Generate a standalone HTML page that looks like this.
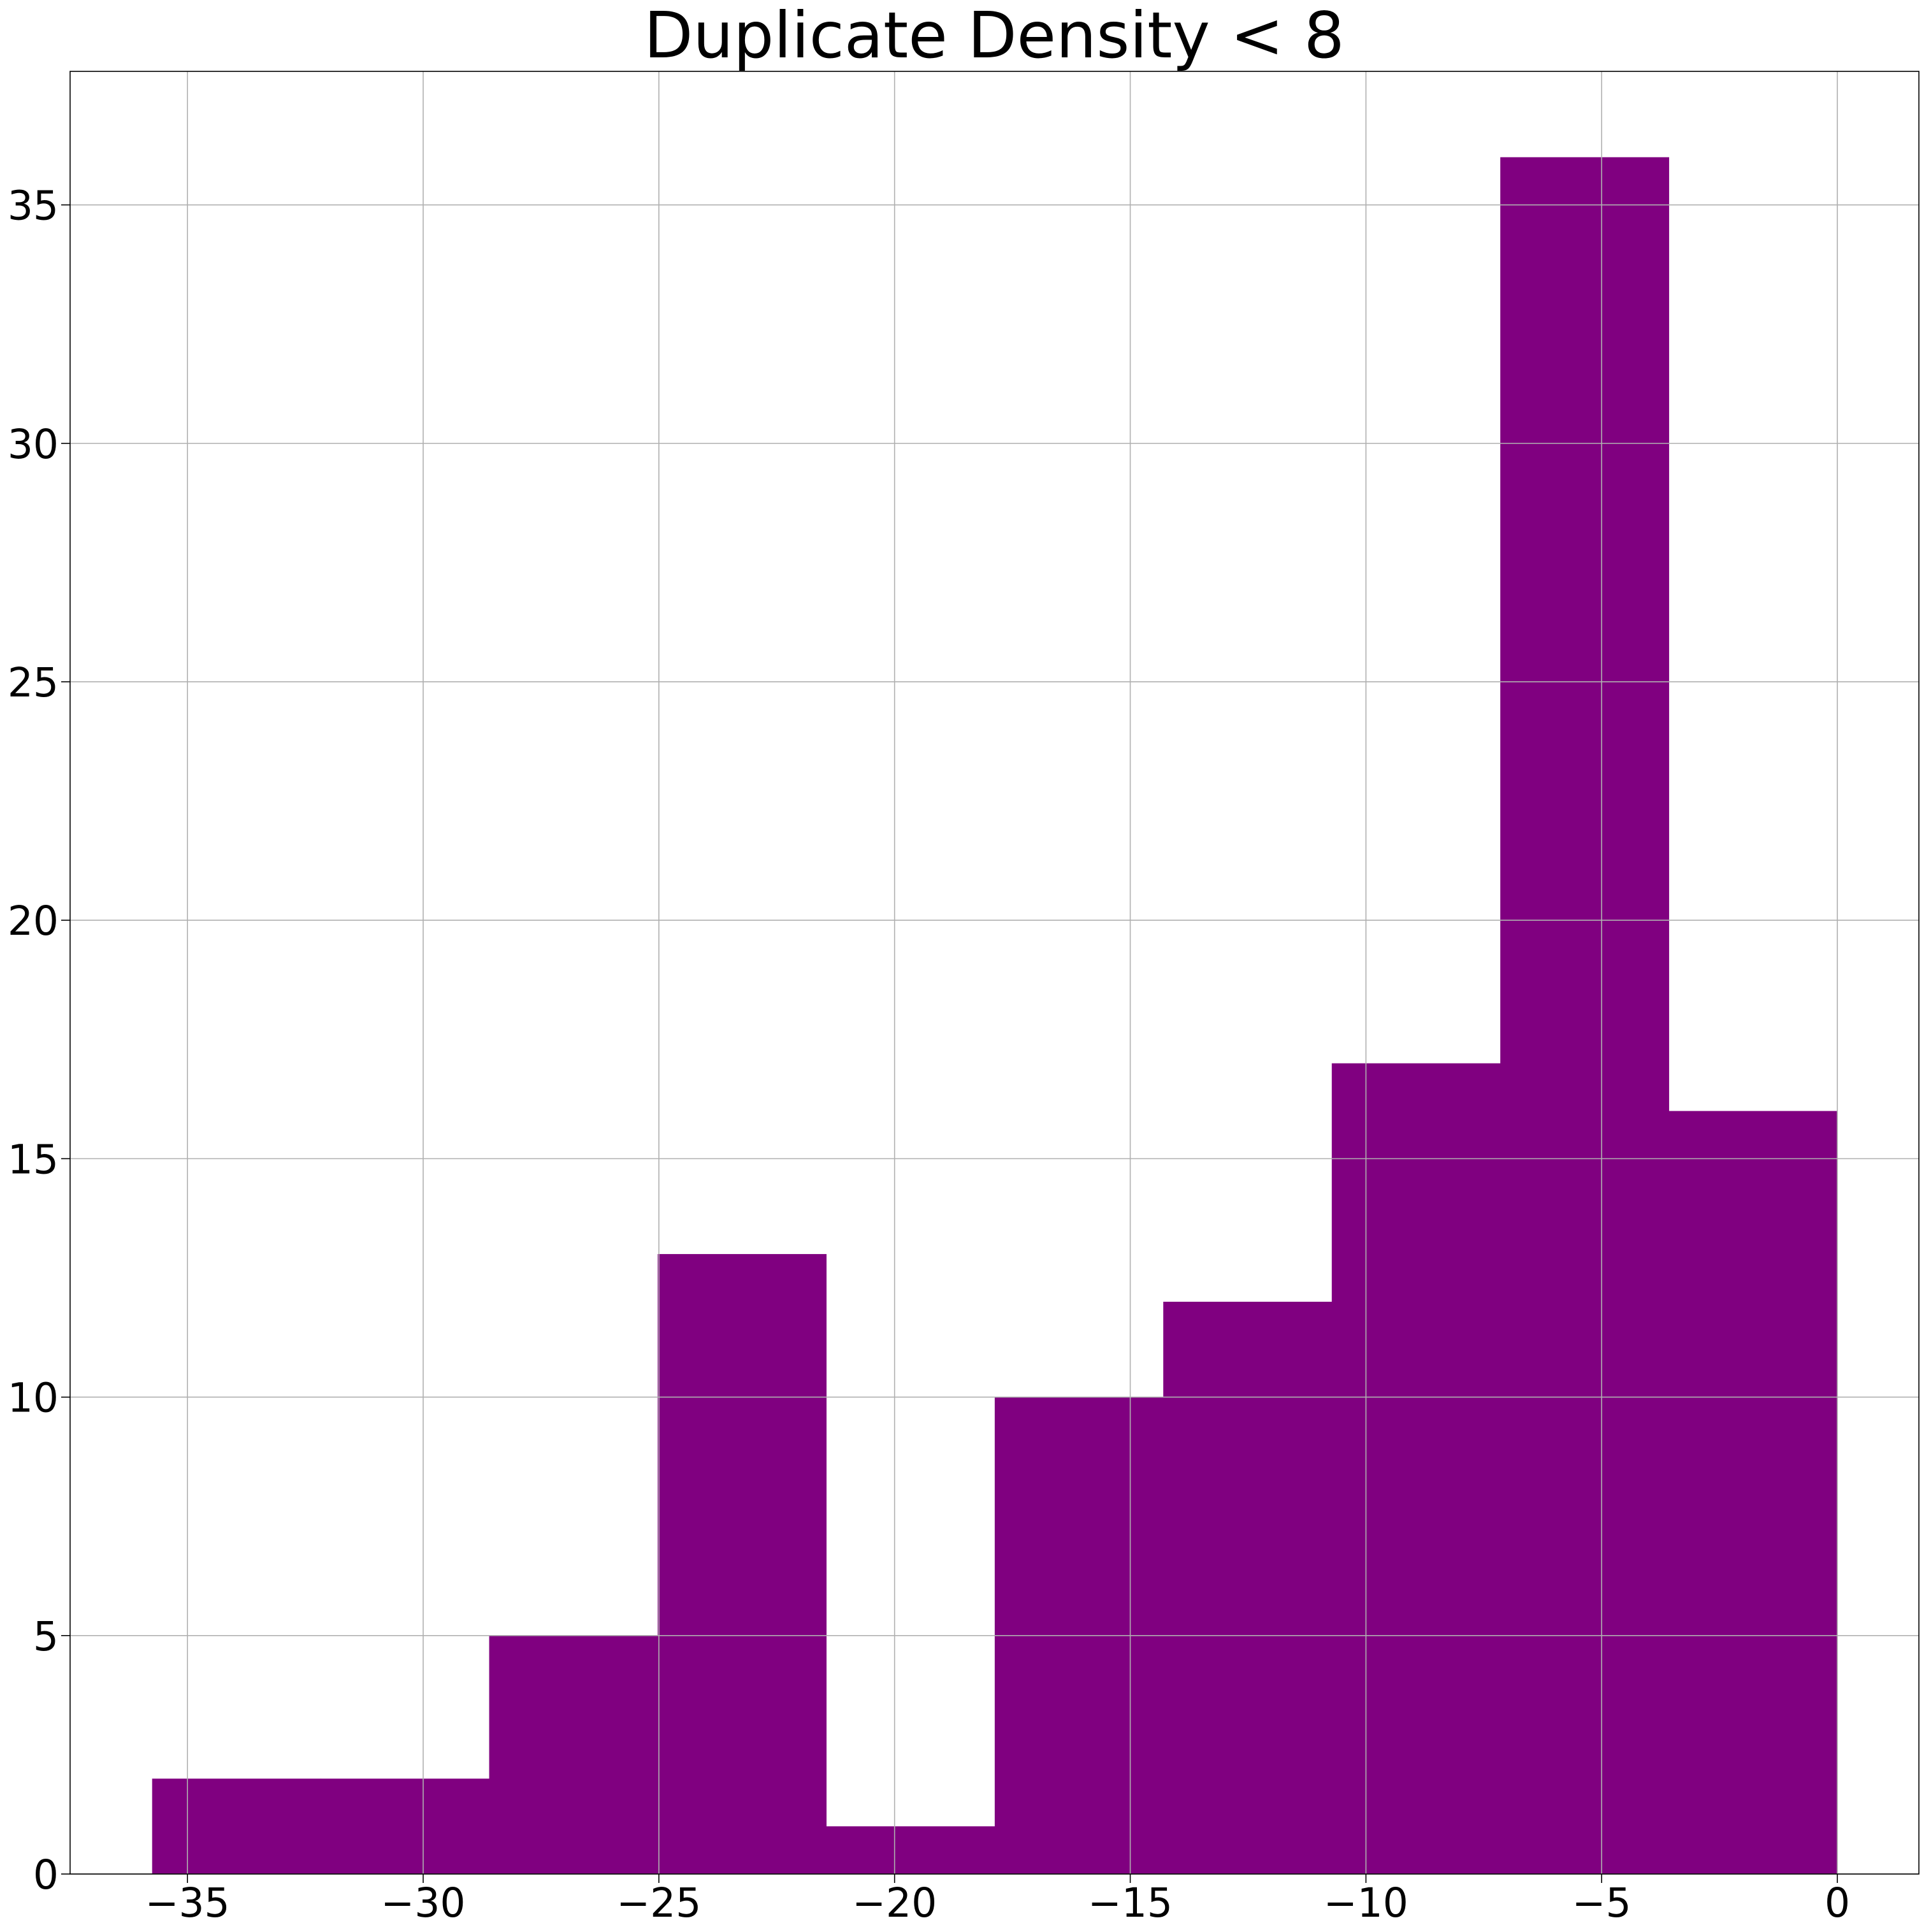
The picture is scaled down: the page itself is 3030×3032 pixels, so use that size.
<!DOCTYPE html>
<html><head><meta charset="utf-8"><style>
html,body{margin:0;padding:0;background:#fff;}
svg{display:block;font-family:"DejaVu Sans","Liberation Sans",sans-serif;}
</style></head>
<body>
<svg id="chart" width="3030" height="3032" viewBox="0 0 3030 3032" xmlns="http://www.w3.org/2000/svg">
<rect x="0" y="0" width="3030" height="3032" fill="#fff"/>
<text x="1560" y="90" font-size="100" text-anchor="middle" fill="#000">Duplicate Density &lt; 8</text>
<g id="bars"></g>
<g id="grid"></g>
<g id="ticks"></g>
<rect x="110" y="112" width="2901" height="2829" fill="none" stroke="#000" stroke-width="1.6"/>
</svg>
<script>
const binStart = -35.75;
const binEnd = 0;
const counts = [2, 2, 5, 13, 1, 10, 12, 17, 36, 16];
const xTicks = [-35, -30, -25, -20, -15, -10, -5, 0];
const yTicks = [0, 5, 10, 15, 20, 25, 30, 35];
const xTickLabels = ["\u221235", "\u221230", "\u221225", "\u221220", "\u221215", "\u221210", "\u22125", "0"];
const yTickLabels = ["0", "5", "10", "15", "20", "25", "30", "35"];

const L = 110, R = 3011, T = 112, B = 2941;
const xMin = -37.49, xMax = 1.73, yMin = 0, yMax = 37.8;
const xs = v => L + (v - xMin) / (xMax - xMin) * (R - L);
const ys = v => B - (v - yMin) / (yMax - yMin) * (B - T);
const NS = "http://www.w3.org/2000/svg";
function mk(tag, attrs, parent) {
  const e = document.createElementNS(NS, tag);
  for (const k in attrs) e.setAttribute(k, attrs[k]);
  parent.appendChild(e);
  return e;
}
const bars = document.getElementById('bars');
const grid = document.getElementById('grid');
const ticks = document.getElementById('ticks');
const w = (binEnd - binStart) / counts.length;
counts.forEach((c, i) => {
  const x0 = xs(binStart + i * w), x1 = xs(binStart + (i + 1) * w);
  const r = mk('rect', {x: x0, y: ys(c), width: x1 - x0 + 0.5, height: ys(0) - ys(c), fill: '#800080'}, bars);
  
  
});
xTicks.forEach((t, i) => {
  const x = xs(t);
  const g = mk('line', {x1: x, x2: x, y1: T, y2: B, stroke: '#b0b0b0', 'stroke-width': 1.6}, grid);
  
  
  mk('line', {x1: x, x2: x, y1: B, y2: B + 14, stroke: '#000', 'stroke-width': 1.6}, ticks);
  const tx = mk('text', {x: x, y: 3008, 'font-size': 63, 'text-anchor': 'middle', fill: '#000'}, ticks);
  tx.textContent = xTickLabels[i];
  
  
});
yTicks.forEach((t, i) => {
  const y = ys(t);
  const g = mk('line', {x1: L, x2: R, y1: y, y2: y, stroke: '#b0b0b0', 'stroke-width': 1.6}, grid);
  
  
  mk('line', {x1: L - 14, x2: L, y1: y, y2: y, stroke: '#000', 'stroke-width': 1.6}, ticks);
  const tx = mk('text', {x: 92, y: y + 23, 'font-size': 63, 'text-anchor': 'end', fill: '#000'}, ticks);
  tx.textContent = yTickLabels[i];
  
  
});
</script>
</body></html>
